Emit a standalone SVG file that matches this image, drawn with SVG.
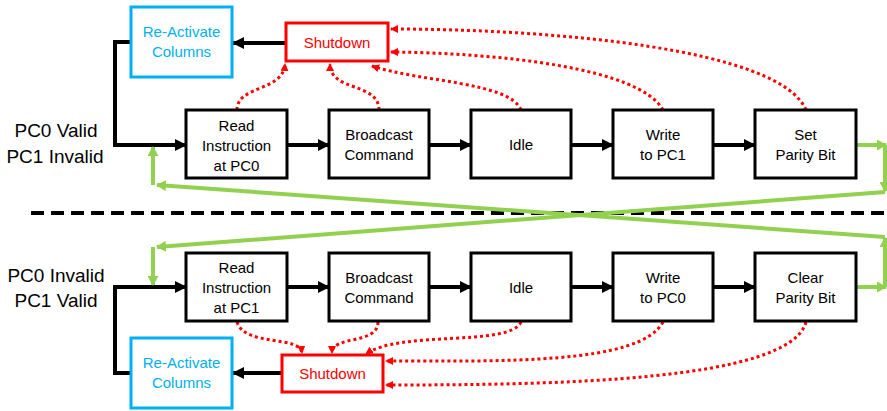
<svg xmlns="http://www.w3.org/2000/svg" width="887" height="411" viewBox="0 0 887 411">
<style>
  .box{fill:#fff;stroke:#000;stroke-width:3}
  .blue{fill:#fff;stroke:#00B0F0;stroke-width:3}
  .red{fill:#fff;stroke:#FF0000;stroke-width:3}
  text{font-family:"Liberation Sans",Arial,sans-serif;font-size:15px;text-anchor:middle;fill:#000}
  .tb{fill:#00B0F0}
  .tr{fill:#FF0000}
  .lbl{font-size:19px}
  .blk{fill:none;stroke:#000;stroke-width:4;marker-end:url(#ab)}
  .grn{fill:none;stroke:#92D050;stroke-width:4;marker-end:url(#ag)}
  .dot{fill:none;stroke:#FF0000;stroke-width:3;stroke-dasharray:3 3;marker-end:url(#ar)}
</style>
<defs>
  <marker id="ab" markerUnits="userSpaceOnUse" viewBox="0 0 12 12" markerWidth="12" markerHeight="12" refX="11" refY="6" orient="auto"><path d="M0,0 L12,6 L0,12 z" fill="#000"/></marker>
  <marker id="ag" markerUnits="userSpaceOnUse" viewBox="0 0 10 11" markerWidth="10" markerHeight="11" refX="9" refY="5.5" orient="auto"><path d="M0,0 L10,5.5 L0,11 z" fill="#92D050"/></marker>
  <marker id="ar" markerUnits="userSpaceOnUse" viewBox="0 0 8 8" markerWidth="8" markerHeight="8" refX="7" refY="4" orient="auto"><path d="M0,0 L8,4 L0,8 z" fill="#FF0000"/></marker>
</defs>

<rect width="887" height="411" fill="#fff"/>

<g id="connectors">
  <line x1="31" y1="213" x2="887" y2="213" stroke="#000" stroke-width="4" stroke-dasharray="13 7"/>
  <!-- top black -->
  <line class="blk" x1="286" y1="43" x2="233" y2="43"/>
  <polyline class="blk" points="131,42 115,42 115,145 186,145"/>
  <line class="blk" x1="287" y1="145" x2="329" y2="145"/>
  <line class="blk" x1="429" y1="145" x2="471" y2="145"/>
  <line class="blk" x1="571" y1="145" x2="613" y2="145"/>
  <line class="blk" x1="713" y1="145" x2="755" y2="145"/>
  <!-- bottom black -->
  <line class="blk" x1="282" y1="373" x2="233" y2="373"/>
  <polyline class="blk" points="131,373 115,373 115,287 186,287"/>
  <line class="blk" x1="287" y1="287" x2="329" y2="287"/>
  <line class="blk" x1="429" y1="287" x2="471" y2="287"/>
  <line class="blk" x1="571" y1="287" x2="613" y2="287"/>
  <line class="blk" x1="713" y1="287" x2="755" y2="287"/>
  <!-- green -->
  <line class="grn" x1="856" y1="145" x2="886" y2="145"/>
  <line class="grn" x1="885" y1="145" x2="885" y2="191"/>
  <line class="grn" x1="885" y1="192" x2="157" y2="247"/>
  <line class="grn" x1="153" y1="247" x2="153" y2="285"/>
  <line class="grn" x1="856" y1="287" x2="886" y2="287"/>
  <line class="grn" x1="885" y1="287" x2="885" y2="238"/>
  <line class="grn" x1="885" y1="237" x2="157" y2="185"/>
  <line class="grn" x1="153" y1="185" x2="153" y2="147"/>
  <!-- red dotted top -->
  <path class="dot" d="M237,110 C237,85 283,92 285,64"/>
  <path class="dot" d="M379,110 C379,82 330,92 330,64"/>
  <path class="dot" d="M521,110 C510,82 420,82 372,66"/>
  <path class="dot" d="M663,110 C640,68 500,53 391,52"/>
  <path class="dot" d="M806,110 C780,48 550,29 391,29"/>
  <!-- red dotted bottom -->
  <path class="dot" d="M237,322 C245,347 300,335 302,353"/>
  <path class="dot" d="M378,322 C378,345 332,335 332,353"/>
  <path class="dot" d="M521,322 C510,347 400,330 366,354"/>
  <path class="dot" d="M663,322 C640,365 500,361 386,361"/>
  <path class="dot" d="M806,322 C790,382 550,385 386,385"/>
</g>

<g id="label-top">
  <text class="lbl" x="56" y="137">PC0 Valid</text>
  <text class="lbl" x="55" y="163">PC1 Invalid</text>
</g>
<g id="label-bottom">
  <text class="lbl" x="56" y="282">PC0 Invalid</text>
  <text class="lbl" x="56" y="307">PC1 Valid</text>
</g>

<g id="reactivate-top"><rect class="blue" x="131" y="7" width="101" height="70"/><text class="tb" x="181.5" y="37">Re-Activate</text><text class="tb" x="181.5" y="57">Columns</text></g>
<g id="shutdown-top"><rect class="red" x="286" y="23" width="102" height="38"/><text class="tr" x="337" y="48">Shutdown</text></g>
<g id="read-pc0"><rect class="box" x="186" y="110" width="101" height="68"/><text x="236.5" y="130.5">Read</text><text x="236.5" y="150.5">Instruction</text><text x="236.5" y="170.5">at PC0</text></g>
<g id="broadcast-top"><rect class="box" x="329" y="110" width="100" height="68"/><text x="379" y="140">Broadcast</text><text x="379" y="160">Command</text></g>
<g id="idle-top"><rect class="box" x="471" y="110" width="100" height="68"/><text x="521" y="150">Idle</text></g>
<g id="write-pc1"><rect class="box" x="613" y="110" width="100" height="68"/><text x="663" y="140">Write</text><text x="663" y="160">to PC1</text></g>
<g id="set-parity"><rect class="box" x="755" y="110" width="101" height="68"/><text x="805.5" y="140">Set</text><text x="805.5" y="160">Parity Bit</text></g>

<g id="read-pc1"><rect class="box" x="186" y="253" width="101" height="68"/><text x="236.5" y="273">Read</text><text x="236.5" y="293">Instruction</text><text x="236.5" y="313">at PC1</text></g>
<g id="broadcast-bottom"><rect class="box" x="329" y="253" width="100" height="68"/><text x="379" y="283">Broadcast</text><text x="379" y="303">Command</text></g>
<g id="idle-bottom"><rect class="box" x="471" y="253" width="100" height="68"/><text x="521" y="293">Idle</text></g>
<g id="write-pc0"><rect class="box" x="613" y="253" width="100" height="68"/><text x="663" y="283">Write</text><text x="663" y="303">to PC0</text></g>
<g id="clear-parity"><rect class="box" x="755" y="253" width="101" height="68"/><text x="805.5" y="283">Clear</text><text x="805.5" y="303">Parity Bit</text></g>
<g id="reactivate-bottom"><rect class="blue" x="131" y="338" width="101" height="70"/><text class="tb" x="181.5" y="368">Re-Activate</text><text class="tb" x="181.5" y="388">Columns</text></g>
<g id="shutdown-bottom"><rect class="red" x="282" y="355" width="101" height="37"/><text class="tr" x="332.5" y="379">Shutdown</text></g>
</svg>
